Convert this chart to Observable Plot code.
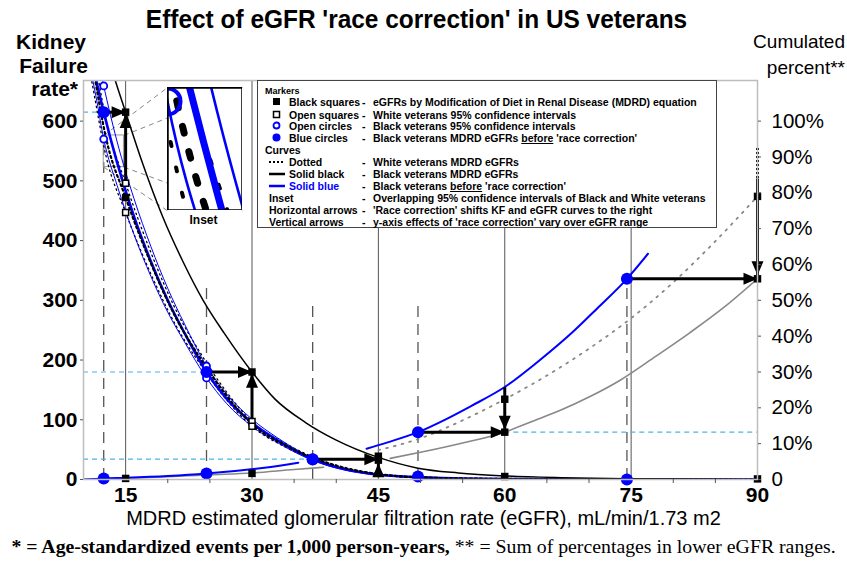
<!DOCTYPE html>
<html><head><meta charset="utf-8">
<script src="https://cdn.jsdelivr.net/npm/d3@7"></script>
<script src="https://cdn.jsdelivr.net/npm/@observablehq/plot@0.6"></script>
<style>
html,body{margin:0;padding:0;background:#fff;}
#wrap{position:relative;width:847px;height:563px;overflow:hidden;font-family:"Liberation Sans",Arial,Helvetica,sans-serif;color:#000;}
.abs{position:absolute;white-space:nowrap;line-height:1;}
#chart{position:absolute;left:0;top:0;}
#title{left:-7px;top:6px;width:847px;text-align:center;font-weight:bold;font-size:26px;transform:scaleX(0.94);transform-origin:50% 50%;}
.ylab{font-weight:bold;font-size:21px;text-align:right;width:90px;}
.rlab{font-size:19px;text-align:right;width:120px;left:725px;}
#xlabel{left:0;width:847px;text-align:center;top:508px;font-size:20px;}
#caption{left:0;width:847px;text-align:center;top:537px;font-family:"Liberation Serif","Times New Roman",serif;font-size:19.8px;}
#legend{left:257px;top:80px;width:460px;height:148px;border:1px solid #444;background:#fff;box-sizing:border-box;font-weight:bold;font-size:10.5px;}
.lrow{position:absolute;white-space:nowrap;line-height:12px;height:12px;}
#inset{position:absolute;background:#fff;}
#insetLabel{font-weight:bold;font-size:12px;}
</style></head>
<body><div id="wrap">
<div id="chart"></div>
<div id="title" class="abs">Effect of eGFR 'race correction' in US veterans</div>
<div class="abs ylab" style="top:31px;left:-4px">Kidney</div>
<div class="abs ylab" style="top:55px;left:-2px">Failure</div>
<div class="abs ylab" style="top:78px;left:-12px">rate*</div>
<div class="abs rlab" style="top:32px">Cumulated</div>
<div class="abs rlab" style="top:58px">percent**</div>
<div id="xlabel" class="abs">MDRD estimated glomerular filtration rate (eGFR), mL/min/1.73 m2</div>
<div id="caption" class="abs"><b>* = Age-standardized events per 1,000 person-years,</b> ** = Sum of percentages in lower eGFR ranges.</div>
<div id="legend" class="abs"></div>
<div id="inset"></div>
<div id="insetLabel" class="abs">Inset</div>
</div>
<script>
// ---------- axes / ticks ----------
const xDomain = [10, 90];
const yDomain = [0, 668];
const xTicks = [15, 30, 45, 60, 75, 90];
const xMinorTicks = [20, 25, 35, 40, 50, 55, 65, 70, 80, 85];
const yTicks = [0, 100, 200, 300, 400, 500, 600];
const rightTickPct = [0, 10, 20, 30, 40, 50, 60, 70, 80, 90, 100];
const rightTickLabels = ["0", "10%", "20%", "30%", "40%", "50%", "60%", "70%", "80%", "90%", "100%"];
const rightAxisMaxRate = 600; // 100% on right axis sits at 600 on left axis
const pct = p => p * rightAxisMaxRate / 100;

// ---------- Kidney failure rate curves [eGFR, rate] ----------
const blackKF = [[12, 760], [13.3, 690], [15, 615], [17, 530], [19.4, 440], [21.8, 365], [24.2, 300], [26.7, 245], [30, 180], [32.7, 135], [36.4, 95], [40, 66], [45, 37], [49.7, 19], [54.5, 11], [60, 6], [66.7, 3], [75, 1.2], [90, 0]];
const blueKF = [[9.5, 800], [11, 700], [12.4, 615], [14, 530], [16, 440], [18, 365], [20, 300], [22, 245], [24.6, 180], [27, 135], [30, 95], [33, 66], [37.2, 34], [41, 17], [45, 8], [49.7, 4], [55, 1.5], [62, 0.8], [75, 0.3], [90, 0]];
const blueKFUpper = [[10, 830], [11.5, 720], [12.4, 659], [14, 565], [16, 470], [18, 390], [20, 320], [22, 260], [24.6, 190], [27, 143], [30, 101], [33, 70], [37.2, 36], [41, 18], [45, 8.5], [50, 3.2], [60, 1], [90, 0]];
const blueKFLower = [[10, 740], [11.5, 640], [12.4, 570], [14, 492], [16, 410], [18, 340], [20, 280], [22, 230], [24.6, 170], [27, 127], [30, 89], [33, 62], [37.2, 32], [41, 16], [45, 7.5], [50, 2.8], [60, 0.8], [90, 0]];
const whiteKF = [[10, 780], [11, 700], [12.7, 570], [15, 472], [18, 362], [21, 270], [24, 200], [27, 140], [30, 93], [34, 57], [38, 32], [42, 16], [45, 9], [50, 3.5], [60, 1], [75, 0.3], [90, 0]];
const whiteKFUpper = [[10, 820], [11, 735], [12.7, 600], [15, 496], [18, 380], [21, 283], [24, 209], [27, 146], [30, 97], [34, 60], [38, 33.5], [42, 17], [45, 9.5], [50, 3.7], [60, 1.1], [90, 0]];
const whiteKFLower = [[10, 740], [11, 665], [12.7, 540], [15, 447], [18, 344], [21, 257], [24, 190], [27, 133], [30, 89], [34, 54], [38, 30.5], [42, 15], [45, 8.5], [50, 3.3], [60, 0.9], [90, 0]];

// ---------- Cumulated percent curves [eGFR, percent] ----------
const blueCumLow = [[10, 0], [12.4, 0.3], [15, 0.5], [20, 1.0], [24.6, 1.7], [28, 2.4], [32, 3.4], [35.5, 4.7]];
const blueCumHigh = [[43.6, 8.6], [46, 10.3], [49.7, 13.2], [53, 16.8], [56, 20.5], [60, 25.8], [64, 33], [68, 41], [71, 47.8], [74.5, 56], [77, 63]];
const grayCumLow = [[10, 0], [15, 0.3], [20, 0.8], [25, 1.3], [30, 1.8], [35, 2.8], [38.5, 3.4]];
const grayCumHigh = [[46.4, 5.9], [50, 7.6], [55, 10.2], [60, 13.2], [63, 16], [66.6, 19.3], [70, 23], [73.7, 27.7], [78, 34.5], [82, 41], [86, 48], [90, 56]];
const whiteCum = [[45, 8.2], [50, 11.5], [55, 16.5], [60, 22.4], [65, 29], [70, 36.5], [75, 45], [80, 55], [85, 66.5], [90, 79]];

// ---------- markers ----------
const blackSquaresKF = [[15, 615], [30, 180], [45, 39], [60, 5], [90, 1], [15, 472]];
const blackSquaresPct = [[15, 0.3], [30, 1.7], [45, 5.4], [60, 13.2], [60, 22.4], [90, 56], [90, 79]];
const openSquares = [[15, 496], [15, 447], [30, 97], [30, 89]];
const openCircles = [[12.4, 659], [12.4, 570], [24.6, 190], [24.6, 170]];
const blueCirclesKF = [[12.4, 615], [24.6, 180], [37.2, 34], [49.7, 5], [74.5, 0]];
const blueCirclesPct = [[12.4, 0.3], [24.6, 1.7], [37.2, 5.6], [49.7, 13.2], [74.5, 56]];

// ---------- reference lines ----------
const gridX = [15, 30, 45, 60, 75];
const dashedV = [[12.4, 560], [24.6, 325], [37.2, 290], [49.7, 290], [74.5, 330]];
const cyanKF = [[615, 10, 12.4], [180, 10, 24.6], [34, 10, 37.2]];
const cyanPct = [[13.2, 60, 90]];

// ---------- arrows ----------
const hArrowsKF = [[615, 12.4, 15], [180, 24.6, 30], [34, 37.2, 45]];
const hArrowsPct = [[13.2, 49.7, 60], [56, 74.5, 90]];
const vArrowsKF = [[15, 496, 612], [30, 97, 177], [45, 4, 27]];
const vArrowsPct = [[60, 25.8, 13.9], [90, 84, 57]];
const vDottedPct = [[90, 92.5, 84]];

// ---------- inset (zoomed region) ----------
const zoomX = [12.4, 14.8];
const zoomY = [523, 576];
const insetBox = {x: [19.97, 28.87], y: [450, 656]};

const X = d => d[0], Y = d => d[1], P = d => pct(d[1]);
const BLUE = "#0000ff";
const curve = "monotone-x";
const arrowHead = {draw(ctx) { ctx.moveTo(0, 0); ctx.lineTo(6, 14); ctx.lineTo(-6, 14); ctx.closePath(); }};

const fig = Plot.plot({
  width: 847, height: 563,
  marginTop: 80, marginBottom: 84, marginLeft: 83, marginRight: 90,
  x: {domain: xDomain},
  y: {domain: yDomain},
  style: {fontFamily: "'Liberation Sans', Arial, sans-serif", background: "transparent", overflow: "visible", color: "#000"},
  marks: [
    Plot.ruleX(gridX, {x: d => d, stroke: "#555", strokeWidth: 1}),
    Plot.ruleX(dashedV, {x: X, y1: 0, y2: Y, stroke: "#555", strokeWidth: 1.3, strokeDasharray: "11,7"}),
    Plot.ruleY(cyanKF, {y: d => d[0], x1: d => d[1], x2: d => d[2], stroke: "#4db3e6", strokeWidth: 1.2, strokeDasharray: "5,4"}),
    Plot.ruleY(cyanPct, {y: d => pct(d[0]), x1: d => d[1], x2: d => d[2], stroke: "#4db3e6", strokeWidth: 1.2, strokeDasharray: "5,4"}),
    // connectors to inset
    Plot.link([[zoomX[0], zoomY[1], insetBox.x[0], insetBox.y[1]], [zoomX[1], zoomY[1], insetBox.x[1], insetBox.y[1]], [zoomX[0], zoomY[0], insetBox.x[0], insetBox.y[0]], [zoomX[1], zoomY[0], insetBox.x[1], insetBox.y[0]]],
      {x1: d => d[0], y1: d => d[1], x2: d => d[2], y2: d => d[3], stroke: "#888", strokeWidth: 1, strokeDasharray: "5,4"}),
    Plot.rect([0], {x1: zoomX[0], x2: zoomX[1], y1: zoomY[0], y2: zoomY[1], fill: "none", stroke: "#999", strokeWidth: 1}),
    // cumulated percent curves
    Plot.line(grayCumLow, {x: X, y: P, stroke: "#888", strokeWidth: 1.6, curve, clip: true}),
    Plot.line(grayCumHigh, {x: X, y: P, stroke: "#888", strokeWidth: 1.6, curve, clip: true}),
    Plot.line(whiteCum, {x: X, y: P, stroke: "#888", strokeWidth: 1.8, strokeDasharray: "1.8,6.2", curve, clip: true}),
    Plot.line(blueCumLow, {x: X, y: P, stroke: BLUE, strokeWidth: 2, curve, clip: true}),
    Plot.line(blueCumHigh, {x: X, y: P, stroke: BLUE, strokeWidth: 2, curve, clip: true}),
    // kidney failure curves
    Plot.line(whiteKFUpper, {x: X, y: Y, stroke: "#000", strokeWidth: 1.3, strokeDasharray: "1.5,3.5", curve, clip: true}),
    Plot.line(whiteKFLower, {x: X, y: Y, stroke: "#000", strokeWidth: 1.3, strokeDasharray: "1.5,3.5", curve, clip: true}),
    Plot.line(blueKFUpper, {x: X, y: Y, stroke: BLUE, strokeWidth: 1, curve, clip: true}),
    Plot.line(blueKFLower, {x: X, y: Y, stroke: BLUE, strokeWidth: 1, curve, clip: true}),
    Plot.line(blueKF, {x: X, y: Y, stroke: BLUE, strokeWidth: 2.6, curve, clip: true}),
    Plot.line(whiteKF, {x: X, y: Y, stroke: "#000", strokeWidth: 2.2, strokeDasharray: "2,3", curve, clip: true}),
    Plot.line(blackKF, {x: X, y: Y, stroke: "#000", strokeWidth: 1.5, curve, clip: true}),
    // arrows
    Plot.link(hArrowsKF, {x1: d => d[1], x2: d => d[2], y1: d => d[0], y2: d => d[0], stroke: "#000", strokeWidth: 3}),
    Plot.link(hArrowsPct, {x1: d => d[1], x2: d => d[2], y1: d => pct(d[0]), y2: d => pct(d[0]), stroke: "#000", strokeWidth: 3}),
    Plot.link(vArrowsKF, {x1: X, x2: X, y1: d => d[1], y2: d => d[2], stroke: "#000", strokeWidth: 3}),
    Plot.link(vArrowsPct, {x1: X, x2: X, y1: d => pct(d[1]), y2: d => pct(d[2]), stroke: "#000", strokeWidth: 3}),
    Plot.link(vDottedPct, {x1: X, x2: X, y1: d => pct(d[1]), y2: d => pct(d[2]), stroke: "#000", strokeWidth: 3, strokeDasharray: "2,2"}),
    Plot.dot(hArrowsKF, {x: d => d[2], y: d => d[0], symbol: arrowHead, rotate: 90, fill: "#000", stroke: "none"}),
    Plot.dot(hArrowsPct, {x: d => d[2], y: d => pct(d[0]), symbol: arrowHead, rotate: 90, fill: "#000", stroke: "none"}),
    Plot.dot(vArrowsKF, {x: X, y: d => d[2], symbol: arrowHead, rotate: 0, fill: "#000", stroke: "none"}),
    Plot.dot(vArrowsPct, {x: X, y: d => pct(d[2]), symbol: arrowHead, rotate: 180, fill: "#000", stroke: "none"}),
    // markers
    Plot.dot(openSquares, {x: X, y: Y, symbol: "square", r: 3.4, fill: "#fff", stroke: "#000", strokeWidth: 1.5}),
    Plot.dot(openCircles, {x: X, y: Y, r: 3.5, fill: "#fff", stroke: BLUE, strokeWidth: 1.8}),
    Plot.dot(blackSquaresKF, {x: X, y: Y, symbol: "square", r: 4.2, fill: "#000", stroke: "none"}),
    Plot.dot(blackSquaresPct, {x: X, y: P, symbol: "square", r: 4.2, fill: "#000", stroke: "none"}),
    Plot.dot(blueCirclesKF, {x: X, y: Y, r: 6, fill: BLUE, stroke: "none"}),
    Plot.dot(blueCirclesPct, {x: X, y: P, r: 6, fill: BLUE, stroke: "none"}),
    // axes
    Plot.frame({stroke: "#bdbdbd", strokeWidth: 1.5}),
    Plot.axisX(xTicks, {tickSize: 0, tickPadding: 8, fontSize: 21, fontWeight: "bold", label: null, tickFormat: d => String(d)}),
    Plot.axisX(xMinorTicks, {tickSize: 4, stroke: "#555", label: null, tickFormat: () => ""}),
    Plot.axisY(yTicks, {tickSize: 3, tickPadding: 3, stroke: "#555", fontSize: 21, fontWeight: "bold", label: null, tickFormat: d => String(d)}),
    Plot.axisY(rightTickPct.map(pct), {anchor: "right", tickSize: 3, tickPadding: 11, stroke: "#555", fontSize: 20.5, label: null,
      tickFormat: d => rightTickLabels[rightTickPct.indexOf(d * 100 / rightAxisMaxRate)]})
  ]
});
document.getElementById("chart").appendChild(fig);

// ---------- inset plot ----------
const sx = fig.scale("x"), sy = fig.scale("y");
const iLeft = sx.apply(insetBox.x[0]), iRight = sx.apply(insetBox.x[1]);
const iTop = sy.apply(insetBox.y[1]), iBottom = sy.apply(insetBox.y[0]);
const iw = Math.round(iRight - iLeft), ih = Math.round(iBottom - iTop);
const insetFig = Plot.plot({
  width: iw, height: ih, margin: 0,
  x: {domain: zoomX, axis: null}, y: {domain: zoomY, axis: null},
  style: {background: "#fff", overflow: "hidden"},
  marks: [
    Plot.line(blueKFUpper, {x: X, y: Y, stroke: BLUE, strokeWidth: 2.6, curve, clip: true}),
    Plot.line(blueKFLower, {x: X, y: Y, stroke: BLUE, strokeWidth: 2.6, curve, clip: true}),
    Plot.line(whiteKFUpper, {x: X, y: Y, stroke: "#000", strokeWidth: 4, strokeDasharray: "4,22", curve, clip: true}),
    Plot.line(whiteKFLower, {x: X, y: Y, stroke: "#000", strokeWidth: 4, strokeDasharray: "4,22", curve, clip: true}),
    Plot.line(blueKF, {x: X, y: Y, stroke: BLUE, strokeWidth: 7, curve, clip: true}),
    Plot.line(whiteKF, {x: X, y: Y, stroke: "#000", strokeWidth: 7, strokeDasharray: "7,19", curve, clip: true}),
    Plot.dot(openCircles, {x: X, y: Y, r: 13, fill: "none", stroke: BLUE, strokeWidth: 4, clip: true}),
    Plot.frame({stroke: "#000", strokeWidth: 2.5})
  ]
});
const insetDiv = document.getElementById("inset");
insetDiv.style.left = iLeft + "px"; insetDiv.style.top = iTop + "px";
insetDiv.appendChild(insetFig);
const il = document.getElementById("insetLabel");
il.style.left = (iLeft + iw / 2 - 15) + "px"; il.style.top = (iBottom + 4) + "px";

// ---------- legend ----------
const legendMarkers = [
  ["sq", "Black squares", "eGFRs by Modification of Diet in Renal Disease (MDRD) equation"],
  ["osq", "Open squares", "White veterans 95% confidence intervals"],
  ["oci", "Open circles", "Black veterans 95% confidence intervals"],
  ["ci", "Blue circles", "Black veterans MDRD eGFRs <u>before</u> 'race correction'"]
];
const legendCurves = [
  ["dot", "Dotted", "White veterans MDRD eGFRs"],
  ["blk", "Solid black", "Black veterans MDRD eGFRs"],
  ["blu", "Solid blue", "Black veterans <u>before</u> 'race correction'"],
  [null, "Inset", "Overlapping 95% confidence intervals of Black and White veterans"],
  [null, "Horizontal arrows", "'Race correction' shifts KF and eGFR curves to the right"],
  [null, "Vertical arrows", "y-axis effects of 'race correction' vary over eGFR range"]
];
const symSvg = {
  sq: '<rect x="5" y="2" width="7" height="7" fill="#000"/>',
  osq: '<rect x="5.5" y="2.5" width="6" height="6" fill="#fff" stroke="#000" stroke-width="1.5"/>',
  oci: '<circle cx="8.5" cy="5.5" r="3" fill="#fff" stroke="' + BLUE + '" stroke-width="1.8"/>',
  ci: '<circle cx="8.5" cy="5.5" r="4" fill="' + BLUE + '"/>',
  dot: '<line x1="0" x2="16" y1="6" y2="6" stroke="#000" stroke-width="2" stroke-dasharray="2,2"/>',
  blk: '<line x1="0" x2="16" y1="6" y2="6" stroke="#000" stroke-width="2.5"/>',
  blu: '<line x1="0" x2="16" y1="6" y2="6" stroke="' + BLUE + '" stroke-width="2.5"/>'
};
const leg = document.getElementById("legend");
let html = '<div class="lrow" style="left:7px;top:4px;font-size:9px">Markers</div>';
const rowY1 = [15, 28, 39, 51];
legendMarkers.forEach((r, i) => {
  html += `<svg style="position:absolute;left:10px;top:${rowY1[i]}px" width="17" height="12">${symSvg[r[0]]}</svg>`;
  html += `<div class="lrow" style="left:31px;top:${rowY1[i]}px">${r[1]}</div>`;
  html += `<div class="lrow" style="left:104px;top:${rowY1[i]}px">-</div>`;
  html += `<div class="lrow" style="left:115px;top:${rowY1[i]}px">${r[2]}</div>`;
});
html += '<div class="lrow" style="left:7px;top:63px">Curves</div>';
const rowY2 = [75, 87, 99, 111, 123, 135];
legendCurves.forEach((r, i) => {
  if (r[0]) html += `<svg style="position:absolute;left:11px;top:${rowY2[i]}px" width="17" height="12">${symSvg[r[0]]}</svg>`;
  const color = r[0] === "blu" ? "color:" + BLUE + ";" : "";
  html += `<div class="lrow" style="left:${r[0] ? 31 : 11}px;top:${rowY2[i]}px;${color}">${r[1]}</div>`;
  html += `<div class="lrow" style="left:104px;top:${rowY2[i]}px">-</div>`;
  html += `<div class="lrow" style="left:115px;top:${rowY2[i]}px">${r[2]}</div>`;
});
leg.innerHTML = html;
</script>
</body></html>
